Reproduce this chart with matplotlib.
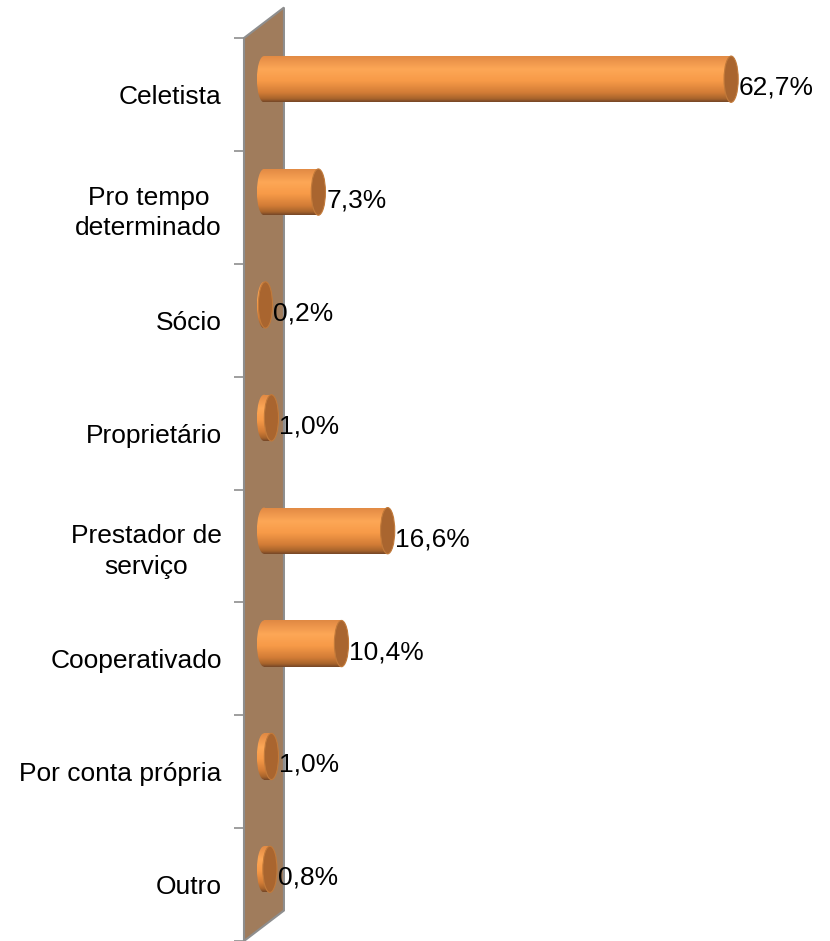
import matplotlib.pyplot as plt
import matplotlib.colors as mcolors
import numpy as np
from matplotlib.patches import Ellipse, Polygon

plt.rcParams['font.family'] = ['Liberation Sans', 'DejaVu Sans']

categories = ["Celetista", "Pro tempo\ndeterminado", "Sócio", "Proprietário",
              "Prestador de\nserviço", "Cooperativado", "Por conta própria", "Outro"]
values = [62.7, 7.3, 0.2, 1.0, 16.6, 10.4, 1.0, 0.8]
value_labels = ["62,7%", "7,3%", "0,2%", "1,0%", "16,6%", "10,4%", "1,0%", "0,8%"]

fig = plt.figure(figsize=(8.3, 9.41), dpi=100)
# axes placed so the floor of the 3d wall lines up with the reference
ax = fig.add_axes([244 / 830, 0.0, 586 / 830, 903 / 941])

xmin, xmax = -2.68, 75.97
n = len(categories)

# back wall (parallelogram, decorative)
wall = Polygon([(xmin, -0.5), (-xmin, -0.77), (-xmin, n - 0.77), (xmin, n - 0.5)],
               closed=True, facecolor="#a07c5c", edgecolor="#8e8e8e",
               linewidth=1.5, clip_on=False, zorder=1)
ax.add_patch(wall)

cmap = mcolors.LinearSegmentedColormap.from_list(
    "cyl", [(0.0, "#e08843"), (0.3, "#fda756"), (0.55, "#f79a48"),
            (0.8, "#d27c36"), (0.93, "#a8642c"), (1.0, "#744627")])
grad = np.linspace(0, 1, 256).reshape(-1, 1)

bar_h = 0.41
shift = -0.135
cap_w = 1.9

ypos = np.arange(n) + shift
bars = ax.barh(ypos, values, height=bar_h, color="none", edgecolor="none", zorder=3)

for i, (v, rect) in enumerate(zip(values, bars)):
    yc = ypos[i]
    # cylinder body with vertical shading
    im = ax.imshow(grad, cmap=cmap, aspect="auto", interpolation="bilinear",
                   extent=(0, v, yc + bar_h / 2, yc - bar_h / 2), zorder=3)
    im.set_clip_path(rect)
    # rounded start of the cylinder
    start = Ellipse((0, yc), cap_w, bar_h, facecolor="none", edgecolor="none")
    ax.add_patch(start)
    im2 = ax.imshow(grad, cmap=cmap, aspect="auto", interpolation="bilinear",
                    extent=(-cap_w / 2, cap_w / 2, yc + bar_h / 2, yc - bar_h / 2), zorder=3)
    im2.set_clip_path(start)
    # end cap
    cap = Ellipse((v, yc), cap_w, bar_h, facecolor="#a9652f",
                  edgecolor="#c27a3a", linewidth=0.8, zorder=4)
    ax.add_patch(cap)
    ax.text(v + cap_w / 2 + 0.1, i - 0.06, value_labels[i], ha="left", va="center",
            fontsize=19, color="black", zorder=5)

ax.set_xlim(xmin, xmax)
ax.set_ylim(n - 0.5, -0.5)

# major ticks at category boundaries, labels at the centres
ax.set_yticks(np.arange(n + 1) - 0.5)
ax.set_yticklabels([])
ax.set_yticks(np.arange(n), minor=True)
ax.set_yticklabels(categories, minor=True, fontsize=19)
ax.tick_params(axis="y", which="major", length=7, color="#8e8e8e", width=1.2)
ax.tick_params(axis="y", which="minor", length=0, pad=16)
for lab in ax.get_yticklabels(minor=True):
    lab.set_multialignment("center")
    lab.set_linespacing(1.35)

ax.set_xticks([])
for s in ax.spines.values():
    s.set_visible(False)

plt.savefig("out.png", dpi=100)
